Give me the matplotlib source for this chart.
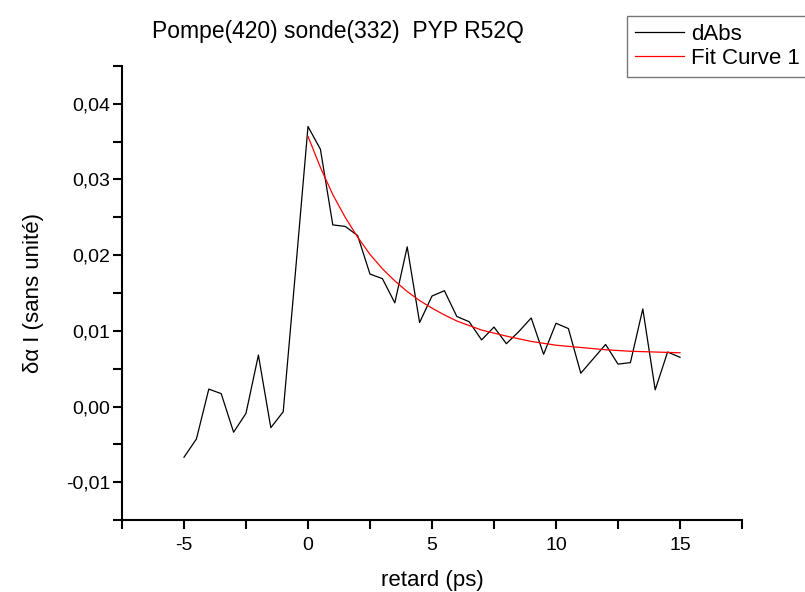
import matplotlib
matplotlib.use('Agg')
import matplotlib.pyplot as plt
from matplotlib.ticker import MultipleLocator, FuncFormatter

plt.rcParams['font.family'] = ['Liberation Sans', 'DejaVu Sans']

# delay (ps) and measured dAbs
retard = [-5, -4.5, -4, -3.5, -3, -2.5, -2, -1.5, -1, -0.5,
          0, 0.5, 1, 1.5, 2, 2.5, 3, 3.5, 4, 4.5, 5, 5.5, 6, 6.5, 7, 7.5,
          8, 8.5, 9, 9.5, 10, 10.5, 11, 11.5, 12, 12.5, 13, 13.5, 14, 14.5, 15]
dabs = [-0.0067, -0.0043, 0.0023, 0.0017, -0.0034, -0.0009, 0.0068, -0.0028, -0.0007, 0.0180,
        0.0370, 0.0340, 0.0240, 0.0238, 0.0226, 0.0175, 0.0169, 0.0137, 0.0211, 0.0111,
        0.0146, 0.0153, 0.0119, 0.0112, 0.0088, 0.0105,
        0.0083, 0.0099, 0.0117, 0.0069, 0.0110, 0.0103, 0.0044, 0.0063, 0.0082, 0.0056,
        0.0058, 0.0129, 0.0022, 0.0072, 0.0065]

# fit curve
fit_t = [0, 0.5, 1, 1.5, 2, 2.5, 3, 3.5, 4, 4.5, 5, 5.5, 6, 7, 8, 9, 10, 11, 12, 13, 14, 15]
fit_y = [0.0357, 0.0316, 0.0280, 0.0250, 0.0224, 0.0201, 0.0182, 0.0166, 0.0152, 0.0140,
         0.0130, 0.0121, 0.0113, 0.0101, 0.0093, 0.0086, 0.0081, 0.0078, 0.0075, 0.0073,
         0.0072, 0.0071]

fig = plt.figure(figsize=(8.05, 5.92), dpi=100)
ax = fig.add_axes([122 / 805, 1 - 520 / 592, 620 / 805, 454 / 592])

l1, = ax.plot(retard, dabs, color='black', lw=0.9, label='dAbs')
l2, = ax.plot(fit_t, fit_y, color='red', lw=0.9, label='Fit Curve 1')

ax.set_xlim(-7.5, 17.5)
ax.set_ylim(-0.015, 0.045)
ax.xaxis.set_major_locator(MultipleLocator(5))
ax.xaxis.set_minor_locator(MultipleLocator(2.5))
ax.yaxis.set_major_locator(MultipleLocator(0.01))
ax.yaxis.set_minor_locator(MultipleLocator(0.005))
ax.yaxis.set_major_formatter(FuncFormatter(lambda v, p: f'{v:.2f}'.replace('.', ',').replace('-0,00', '0,00')))
ax.xaxis.set_major_formatter(FuncFormatter(lambda v, p: f'{v:.0f}'.replace('\u2212', '-')))

for s in ['top', 'right']:
    ax.spines[s].set_visible(False)
for s in ['left', 'bottom']:
    ax.spines[s].set_linewidth(1.5)
ax.tick_params(which='both', direction='out', length=6.5, width=1.5, labelsize=14)
ax.tick_params(axis='x', pad=6)
ax.tick_params(axis='y', pad=2)

ax.set_xlabel('retard (ps)', fontsize=16, labelpad=11)
ax.set_ylabel('δα I (sans unité)', fontsize=16, labelpad=16)
fig.text(338 / 805, 1 - 38 / 592, 'Pompe(420) sonde(332)  PYP R52Q', fontsize=16.5,
         ha='center', va='baseline')

leg = fig.legend(handles=[l1, l2], loc='upper left', bbox_to_anchor=(627 / 805, 1 - 16 / 592),
                 fontsize=16, frameon=True, fancybox=False, handlelength=2.2,
                 handletextpad=0.35, borderpad=0.35, labelspacing=0.15, borderaxespad=0)
leg.get_frame().set_edgecolor('#555555')
leg.get_frame().set_linewidth(1.0)

fig.savefig('out.png', dpi=100)
